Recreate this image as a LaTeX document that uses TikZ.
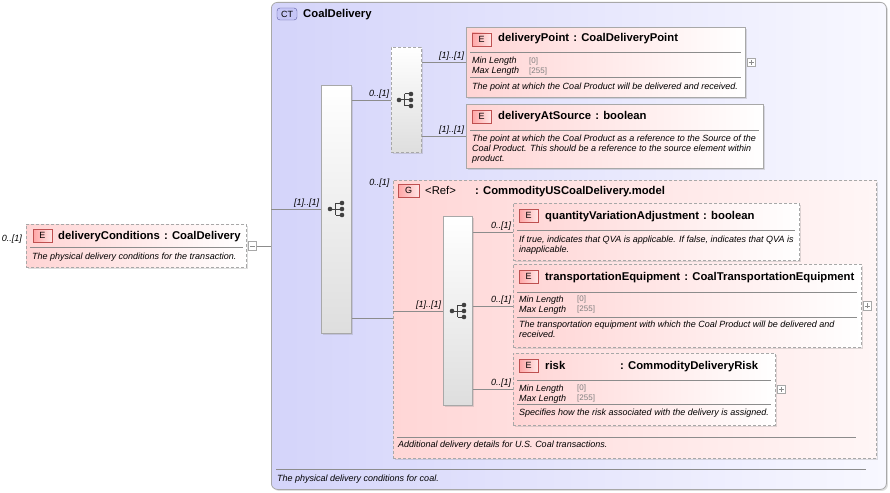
\documentclass[tikz,border=0pt]{standalone}
\usepackage{fontspec}
\setmainfont{Liberation Sans}
\usetikzlibrary{positioning,shadows}

\definecolor{ctleft}{RGB}{212,212,250}
\definecolor{ctright}{RGB}{248,248,255}
\definecolor{elleft}{RGB}{255,212,212}
\definecolor{grleft}{RGB}{255,214,214}
\definecolor{grright}{RGB}{255,246,246}
\definecolor{boxline}{RGB}{168,168,168}
\definecolor{wirecol}{RGB}{140,140,140}
\definecolor{badgeline}{RGB}{190,80,80}
\definecolor{ctbadgefill}{RGB}{198,198,246}
\definecolor{ctbadgeline}{RGB}{90,90,160}

\newcommand{\titlefont}{\fontsize{11.3}{13}\selectfont\bfseries}
\newcommand{\descfont}{\fontsize{9}{10}\selectfont\itshape}
\newcommand{\factfont}{\fontsize{8}{9}\selectfont}
\newcommand{\typesep}{\hspace{4.2pt}:\hspace{4.2pt}}

\tikzset{
  boxshadow/.style={drop shadow={shadow xshift=1.5pt,shadow yshift=-1.5pt,opacity=0.25}},
  schemabox/.style={draw=boxline, anchor=north west, inner sep=0pt, line width=0.8pt, boxshadow},
  elbox/.style={schemabox, left color=elleft, right color=white},
  optbox/.style={elbox, dash pattern=on 3pt off 2pt},
  seqbar/.style={schemabox, top color=white, bottom color=black!13},
  optseqbar/.style={seqbar, dash pattern=on 3pt off 2pt},
  badge/.style={draw=badgeline, left color=red!35, right color=red!10, minimum width=19pt,
    minimum height=13pt, inner sep=0pt, font=\fontsize{9}{9}\selectfont},
  ctbadge/.style={draw=ctbadgeline, fill=ctbadgefill, rounded corners=3pt, minimum width=20pt,
    minimum height=12pt, inner sep=0pt, font=\fontsize{9}{9}\selectfont},
  eltitle/.style={anchor=base west, inner sep=0pt, font=\titlefont},
  elplain/.style={anchor=base west, inner sep=0pt, font=\fontsize{11.3}{13}\selectfont},
  eldesc/.style={anchor=base west, inner sep=0pt, font=\descfont},
  elfact/.style={anchor=base west, inner sep=0pt, font=\factfont, text=gray},
  card/.style={font=\descfont, inner sep=1.5pt},
  sepline/.style={draw=black!45, line width=0.7pt},
  wire/.style={draw=wirecol, line width=0.7pt},
  togglebox/.style={draw=boxline, fill=white, minimum size=8.5pt, inner sep=0pt},
  minusbox/.style={togglebox, path picture={
    \draw[black!45] ([xshift=-2.5pt]path picture bounding box.center) -- ([xshift=2.5pt]path picture bounding box.center);}},
  plusbox/.style={togglebox, path picture={
    \draw[black!45] ([xshift=-2.5pt]path picture bounding box.center) -- ([xshift=2.5pt]path picture bounding box.center)
      ([yshift=-2.5pt]path picture bounding box.center) -- ([yshift=2.5pt]path picture bounding box.center);}},
  seqicon/.pic={
    \draw[black!75, line width=1pt] (-7,0) -- (-1.5,0) (-1.5,-6) -- (-1.5,6)
      (-1.5,-6) -- (5,-6) (-1.5,6) -- (5,6) (-1.5,0) -- (5,0);
    \foreach \v in {-6,0,6} \fill[black!75] (5,\v) circle (2.3pt);
    \fill[black!75] (-7,0) circle (2.3pt);
  }
}

\begin{document}
\begin{tikzpicture}[x=1pt,y=-1pt]
\useasboundingbox (0,0) rectangle (890,492);

% complex type frame
\node[schemabox, rounded corners=6pt, left color=ctleft, right color=ctright,
  minimum width=615pt, minimum height=487pt] (ct) at (271,2) {};
\node[ctbadge] (ctmark) at (287,14) {CT};
\node[eltitle] (ctname) at (303,18) {CoalDelivery};
\draw[sepline] (276,469) -- (866,469);
\node[eldesc] (ctnote) at (277,481) {The physical delivery conditions for coal.};

% deliveryConditions
\node[optbox, minimum width=220pt, minimum height=43pt] (dc) at (26,224) {};
\node[badge] (dcmark) at (42.5,235.5) {E};
\node[eltitle] (dcname) at (58,239) {deliveryConditions\typesep CoalDelivery};
\draw[sepline] (30,247) -- (243,247);
\node[eldesc] (dcnote) at (32,259) {The physical delivery conditions for the transaction.};
\node[card, anchor=east] (dccard) at (23.5,239) {0..[1]};
\node[minusbox, right=1pt of dc] (dctoggle) {};
\draw[wire] (dctoggle.east) -- (ct.west |- dctoggle.east);

% main sequence
\node[seqbar, minimum width=30pt, minimum height=248pt] (mainseq) at (321,85) {};
\pic at (337,209) {seqicon};
\draw[wire] (ct.west |- mainseq.west) -- (mainseq.west)
  node[card, pos=1, above left] (mainseqcard) {[1]..[1]};

% delivery point sequence
\node[optseqbar, minimum width=30pt, minimum height=105pt] (pointseq) at (391,47) {};
\pic at (406,100) {seqicon};
\draw[wire] (mainseq.east |- pointseq.west) -- (pointseq.west)
  node[card, pos=1, above left] (pointseqcard) {0..[1]};

% deliveryPoint
\node[elbox, minimum width=279pt, minimum height=70pt] (pointel) at (466,27) {};
\node[badge] (pointmark) at (481.5,39.5) {E};
\node[eltitle] (pointname) at (498,42) {deliveryPoint\typesep CoalDeliveryPoint};
\draw[sepline] (470,52) -- (741,52);
\node[eldesc] (pointmin) at (472,64) {Min Length};
\node[elfact] (pointminv) at (529,63.5) {[0]};
\node[eldesc] (pointmax) at (472,74) {Max Length};
\node[elfact] (pointmaxv) at (529,73.5) {[255]};
\draw[sepline] (470,77) -- (741,77);
\node[eldesc] (pointnote) at (472,89) {The point at which the Coal Product will be delivered and received.};
\node[plusbox, right=1pt of pointel] (pointtoggle) {};
\draw[wire] (pointseq.east |- pointel.west) -- (pointel.west)
  node[card, pos=1, above left] (pointcard) {[1]..[1]};

% deliveryAtSource
\node[elbox, minimum width=297pt, minimum height=64pt] (sourceel) at (466,104) {};
\node[badge] (sourcemark) at (481.5,116.5) {E};
\node[eltitle] (sourcename) at (498,119) {deliveryAtSource\typesep boolean};
\draw[sepline] (470,130) -- (759,130);
\node[eldesc] (sourcenotea) at (472,141) {The point at which the Coal Product as a reference to the Source of the};
\node[eldesc] (sourcenoteb) at (472,151) {Coal Product. This should be a reference to the source element within};
\node[eldesc] (sourcenotec) at (472,161) {product.};
\draw[wire] (pointseq.east |- sourceel.west) -- (sourceel.west)
  node[card, pos=1, above left] (sourcecard) {[1]..[1]};

% group reference
\node[schemabox, dash pattern=on 3pt off 2pt, left color=grleft, right color=grright,
  minimum width=483pt, minimum height=278pt] (grp) at (393,180) {};
\node[card, anchor=east] (grpcard) at (391,183) {0..[1]};
\node[badge, minimum width=21pt] (grpmark) at (408.5,190.5) {G};
\node[elplain] (grpref) at (425,194) {<Ref>};
\node[eltitle] (grpname) at (475,194) {:\hspace{4.2pt}CommodityUSCoalDelivery.model};
\draw[sepline] (397,437) -- (856,437);
\node[eldesc] (grpnote) at (398,447.5) {Additional delivery details for U.S. Coal transactions.};
\coordinate (grpin) at (393,318);
\draw[wire] (mainseq.east |- grpin) -- (grpin);

% model sequence
\node[seqbar, minimum width=29pt, minimum height=189pt] (modelseq) at (443,216) {};
\pic at (459,311) {seqicon};
\draw[wire] (grp.west |- modelseq.west) -- (modelseq.west)
  node[card, pos=1, above left] (modelseqcard) {[1]..[1]};

% quantityVariationAdjustment
\node[optbox, minimum width=286pt, minimum height=57pt] (qvael) at (513,203) {};
\node[badge] (qvamark) at (528.5,215.5) {E};
\node[eltitle] (qvaname) at (545,219) {quantityVariationAdjustment\typesep boolean};
\draw[sepline] (517,230) -- (795,230);
\node[eldesc] (qvanotea) at (519,242) {If true, indicates that QVA is applicable. If false, indicates that QVA is};
\node[eldesc] (qvanoteb) at (519,252) {inapplicable.};
\draw[wire] (modelseq.east |- qvael.west) -- (qvael.west)
  node[card, pos=1, above left] (qvacard) {0..[1]};

% transportationEquipment
\node[optbox, minimum width=348pt, minimum height=83pt] (equipel) at (513,264) {};
\node[badge] (equipmark) at (528.5,276.5) {E};
\node[eltitle] (equipname) at (545,280) {transportationEquipment\typesep CoalTransportationEquipment};
\draw[sepline] (517,292) -- (857,292);
\node[eldesc] (equipmin) at (519,302) {Min Length};
\node[elfact] (equipminv) at (577,301.5) {[0]};
\node[eldesc] (equipmax) at (519,312) {Max Length};
\node[elfact] (equipmaxv) at (577,311.5) {[255]};
\draw[sepline] (517,317) -- (857,317);
\node[eldesc] (equipnotea) at (519,327) {The transportation equipment with which the Coal Product will be delivered and};
\node[eldesc] (equipnoteb) at (519,337) {received.};
\node[plusbox, right=1pt of equipel] (equiptoggle) {};
\draw[wire] (modelseq.east |- equipel.west) -- (equipel.west)
  node[card, pos=1, above left] (equipcard) {0..[1]};

% risk
\node[optbox, minimum width=262pt, minimum height=72pt] (riskel) at (513,353) {};
\node[badge] (riskmark) at (528.5,365.5) {E};
\node[eltitle] (riskname) at (545,369) {risk};
\node[eltitle] (risktype) at (620,369) {:\hspace{4.2pt}CommodityDeliveryRisk};
\draw[sepline] (517,380) -- (771,380);
\node[eldesc] (riskmin) at (519,391) {Min Length};
\node[elfact] (riskminv) at (577,390.5) {[0]};
\node[eldesc] (riskmax) at (519,401) {Max Length};
\node[elfact] (riskmaxv) at (577,400.5) {[255]};
\draw[sepline] (517,404) -- (771,404);
\node[eldesc] (risknote) at (519,415) {Specifies how the risk associated with the delivery is assigned.};
\node[plusbox, right=1pt of riskel] (risktoggle) {};
\draw[wire] (modelseq.east |- riskel.west) -- (riskel.west)
  node[card, pos=1, above left] (riskcard) {0..[1]};
\end{tikzpicture}
\end{document}
